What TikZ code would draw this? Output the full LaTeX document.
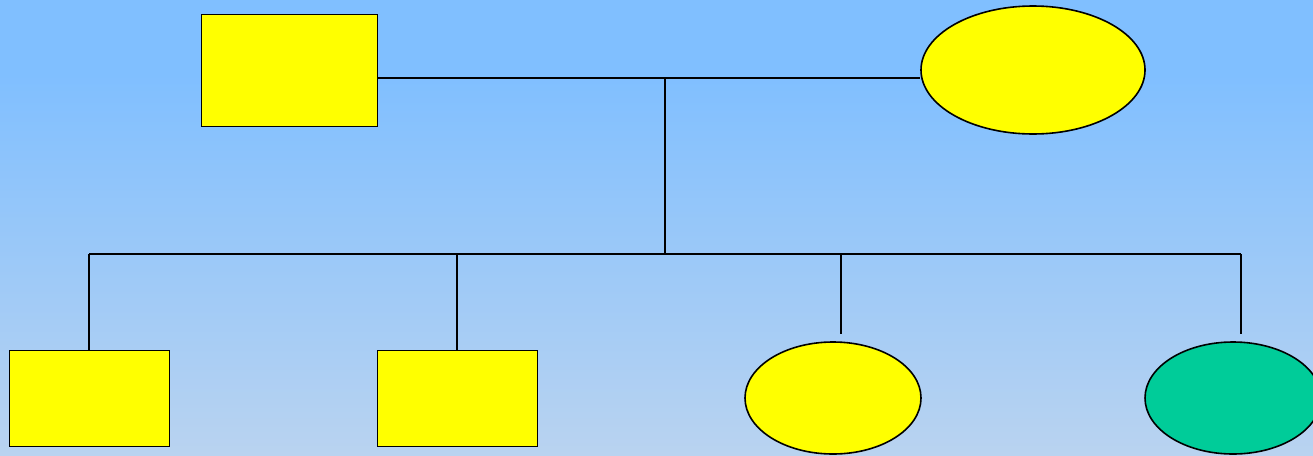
\documentclass[tikz,border=0pt]{standalone}
\usetikzlibrary{shapes.geometric}
\definecolor{bgtop}{HTML}{80BFFF}
\definecolor{bgbot}{HTML}{B9D3F0}
\definecolor{yel}{HTML}{FFFF00}
\definecolor{grn}{HTML}{00CC99}
\tikzset{
  box/.style={draw=black, line width=1.6pt, fill=yel, rectangle, inner sep=0pt, anchor=north west},
  oval/.style={draw=black, line width=1.6pt, fill=yel, ellipse, inner sep=0pt},
  link/.style={draw=black, line width=1.6pt}
}
\begin{document}
\begin{tikzpicture}[x=1pt,y=-1pt]
\useasboundingbox (0,0) rectangle (1313,455);
\fill[bgtop] (0,0) rectangle (1313,75);
\shade[top color=bgtop, bottom color=bgbot] (0,74) rectangle (1313,455);
% top generation
\node[box, minimum width=176pt, minimum height=112pt] (father) at (200.5,13.5) {};
\node[oval, minimum width=224pt, minimum height=128pt] (mother) at (1033,70) {};
% children
\node[box, minimum width=160pt, minimum height=96pt] (c1) at (8.5,349.5) {};
\node[box, minimum width=160pt, minimum height=96pt] (c2) at (376.5,349.5) {};
\node[oval, minimum width=176pt, minimum height=112pt] (c3) at (833,398) {};
\node[oval, fill=grn, minimum width=176pt, minimum height=112pt] (c4) at (1233,398) {};
% junctions
\coordinate (mid) at (665,78);
\coordinate (bar) at (665,254);
\coordinate (b1) at (89,254);
\coordinate (b2) at (457,254);
\coordinate (b3) at (841,254);
\coordinate (b4) at (1241,254);
\coordinate (e3) at (841,334);
\coordinate (e4) at (1241,334);
\draw[link] (father.east |- mid) -- (mid) -- (mid -| mother.west);
\draw[link] (mid) -- (bar);
\draw[link] (b1) -- (b4);
\draw[link] (b1) -- (b1 |- c1.north);
\draw[link] (b2) -- (b2 |- c2.north);
\draw[link] (b3) -- (e3);
\draw[link] (b4) -- (e4);
\end{tikzpicture}
\end{document}
